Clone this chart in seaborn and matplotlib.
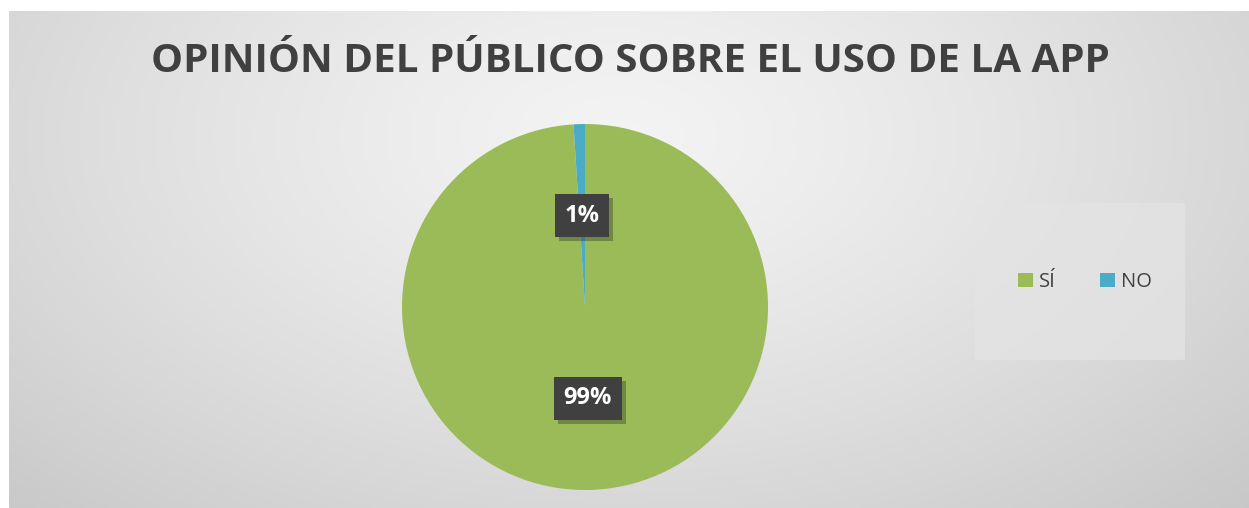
import numpy as np
import matplotlib
matplotlib.use("Agg")
import matplotlib.pyplot as plt
import matplotlib.patheffects as pe
from matplotlib.patches import Rectangle
import seaborn as sns

# ---- data ----
categories = ["SÍ", "NO"]
values = [99, 1]
colors = ["#9BBB59", "#4BACC6"]
title = "OPINIÓN DEL PÚBLICO SOBRE EL USO DE LA APP"

sns.set_theme(style="white")
plt.rcParams['font.family'] = ['Open Sans', 'DejaVu Sans']

W, H = 1249, 508
fig = plt.figure(figsize=(W / 100, H / 100), dpi=100)
fig.patch.set_facecolor("white")

# background panel with radial gradient
x0, y0 = 9, 11  # top-left corner of panel in px
bg = fig.add_axes([x0 / W, 0, 1 - x0 / W, 1 - y0 / H])
bg.set_axis_off()
nx, ny = 400, 200
xx, yy = np.meshgrid(np.linspace(0, 1, nx), np.linspace(0, 1, ny))
cx, cy = 0.49, 0.75
d = np.sqrt(((xx - cx) / 0.75) ** 2 + ((yy - cy) / 1.1) ** 2)
d = np.clip(d, 0, 1)
inner, outer = 0.955, 0.775
grad = inner + (outer - inner) * d ** 1.3
img = np.dstack([grad, grad, grad])
bg.imshow(img, extent=[0, 1, 0, 1], origin="lower", aspect="auto", interpolation="bilinear")
bg.set_xlim(0, 1)
bg.set_ylim(0, 1)

# title
fig.text(630 / W, 1 - 62 / H, title, ha="center", va="center",
         fontsize=29, fontweight="bold", color="#404040")

# pie
pcx, pcy, r = 585, 307, 183
ax = fig.add_axes([(pcx - r) / W, (H - pcy - r) / H, 2 * r / W, 2 * r / H])
wedges, texts, autotexts = ax.pie(
    values, colors=colors, startangle=90, counterclock=False,
    autopct=lambda p: f"{p:.0f}%", pctdistance=0.5,
    wedgeprops=dict(linewidth=0),
    textprops=dict(color="white", fontsize=17, fontweight="bold"))
ax.set_xlim(-1, 1)
ax.set_ylim(-1, 1)
ax.set_aspect("auto")
for t in autotexts:
    t.set_bbox(dict(boxstyle="square,pad=0.4", facecolor="#404040", edgecolor="none"))
    t.get_bbox_patch().set_path_effects([pe.SimplePatchShadow(offset=(3, -3), alpha=0.3),
                                         pe.Normal()])

# legend box
lx0, ly0, lx1, ly1 = 975, 203, 1185, 360
leg_rect = Rectangle((lx0 / W, 1 - ly1 / H), (lx1 - lx0) / W, (ly1 - ly0) / H,
                     transform=fig.transFigure, facecolor="#e4e4e4", edgecolor="none",
                     alpha=0.75, zorder=1)
fig.add_artist(leg_rect)
handles = [Rectangle((0, 0), 1, 1, facecolor=c, edgecolor="none") for c in colors]
leg = fig.legend(handles, categories, loc="center", bbox_to_anchor=(1085 / W, 1 - 282 / H),
                 ncol=2, frameon=False, fontsize=14.5, handlelength=0.75, handleheight=0.75,
                 handletextpad=0.3, columnspacing=2.2, labelcolor="#404040",
                 borderpad=0, borderaxespad=0)

fig.savefig("out.png", dpi=100)
